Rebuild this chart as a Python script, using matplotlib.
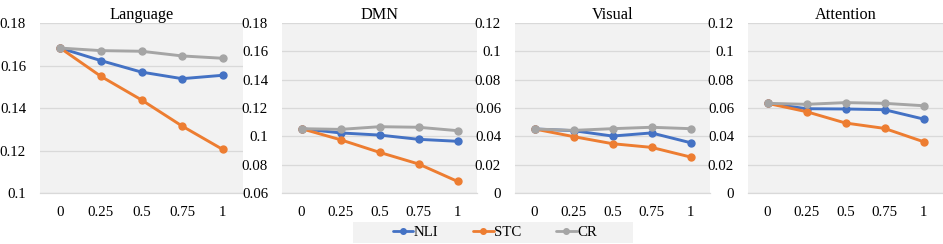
import matplotlib
matplotlib.use("Agg")
import matplotlib.pyplot as plt
from matplotlib.ticker import MultipleLocator, FuncFormatter
from matplotlib.patches import Rectangle

plt.rcParams['font.family'] = ['Liberation Serif', 'DejaVu Serif']

categories = ["0", "0.25", "0.5", "0.75", "1"]
panels = ["Language", "DMN", "Visual", "Attention"]
series_names = ["NLI", "STC", "CR"]

language_nli = [0.1682, 0.1623, 0.1569, 0.1538, 0.1554]
language_stc = [0.1682, 0.1549, 0.1438, 0.1315, 0.1205]
language_cr = [0.1682, 0.1670, 0.1667, 0.1645, 0.1634]

dmn_nli = [0.1054, 0.1024, 0.1009, 0.0979, 0.0965]
dmn_stc = [0.1054, 0.0976, 0.0887, 0.0805, 0.0682]
dmn_cr = [0.1054, 0.1049, 0.1068, 0.1064, 0.1040]

visual_nli = [0.0452, 0.0440, 0.0402, 0.0424, 0.0355]
visual_stc = [0.0452, 0.0398, 0.0348, 0.0322, 0.0254]
visual_cr = [0.0452, 0.0442, 0.0454, 0.0464, 0.0454]

attention_nli = [0.0633, 0.0595, 0.0593, 0.0588, 0.0522]
attention_stc = [0.0633, 0.0574, 0.0494, 0.0456, 0.0362]
attention_cr = [0.0633, 0.0626, 0.0638, 0.0633, 0.0616]

data = {
    "Language": [language_nli, language_stc, language_cr],
    "DMN": [dmn_nli, dmn_stc, dmn_cr],
    "Visual": [visual_nli, visual_stc, visual_cr],
    "Attention": [attention_nli, attention_stc, attention_cr],
}
ylims = {"Language": (0.1, 0.18), "DMN": (0.06, 0.18), "Visual": (0.0, 0.12), "Attention": (0.0, 0.12)}
ystep = 0.02

colors = ["#4472C4", "#ED7D31", "#A5A5A5"]

W, H = 943, 244
fig = plt.figure(figsize=(W / 100, H / 100), dpi=100)

# axes pixel extents
xspans = [(40, 243), (282, 477), (515, 710), (748, 943)]
y_top, y_bot = 23, 193

def fmt(v, pos):
    return f"{v:.2f}".rstrip("0").rstrip(".")

handles = []
for (x0, x1), name in zip(xspans, panels):
    ax = fig.add_axes([x0 / W, (H - y_bot) / H, (x1 - x0) / W, (y_bot - y_top) / H])
    ax.set_facecolor("#F2F2F2")
    xs = list(range(len(categories)))
    for vals, c, sname in zip(data[name], colors, series_names):
        ln, = ax.plot(xs, vals, color=c, lw=2.1, marker="o", ms=5, label=sname,
                      solid_capstyle="round", zorder=3)
        if name == "Language":
            handles.append(ln)
    ax.set_xlim(-0.5, len(categories) - 0.5)
    ax.set_ylim(*ylims[name])
    ax.yaxis.set_major_locator(MultipleLocator(ystep))
    ax.yaxis.set_major_formatter(FuncFormatter(fmt))
    ax.set_xticks(xs)
    ax.set_xticklabels(categories)
    ax.grid(axis="y", color="#D9D9D9", lw=0.9)
    ax.set_axisbelow(True)
    for sp in ["top", "right", "left"]:
        ax.spines[sp].set_visible(False)
    ax.spines["bottom"].set_color("#D9D9D9")
    ax.spines["bottom"].set_linewidth(0.9)
    ax.tick_params(axis="both", length=0, labelsize=10.7, colors="#000000")
    ax.tick_params(axis="y", pad=10)
    ax.tick_params(axis="x", pad=9)
    ax.set_title(name, fontsize=11.7, pad=3)

# legend background box
fig.patches.append(Rectangle((353 / W, 1 / H), 280 / W, 21 / H, transform=fig.transFigure,
                             facecolor="#F2F2F2", edgecolor="none", zorder=0))

leg = fig.legend(handles=handles, labels=series_names, loc="center",
                 bbox_to_anchor=(495 / W, (H - 232) / H),
                 ncol=3, frameon=False, fontsize=10.7, handlelength=1.4,
                 handletextpad=0.05, borderaxespad=0, borderpad=0.0,
                 columnspacing=2.3)
for h in leg.legend_handles:
    h.set_markersize(4)
    h.set_linewidth(2)

fig.savefig("out.png", dpi=100)
